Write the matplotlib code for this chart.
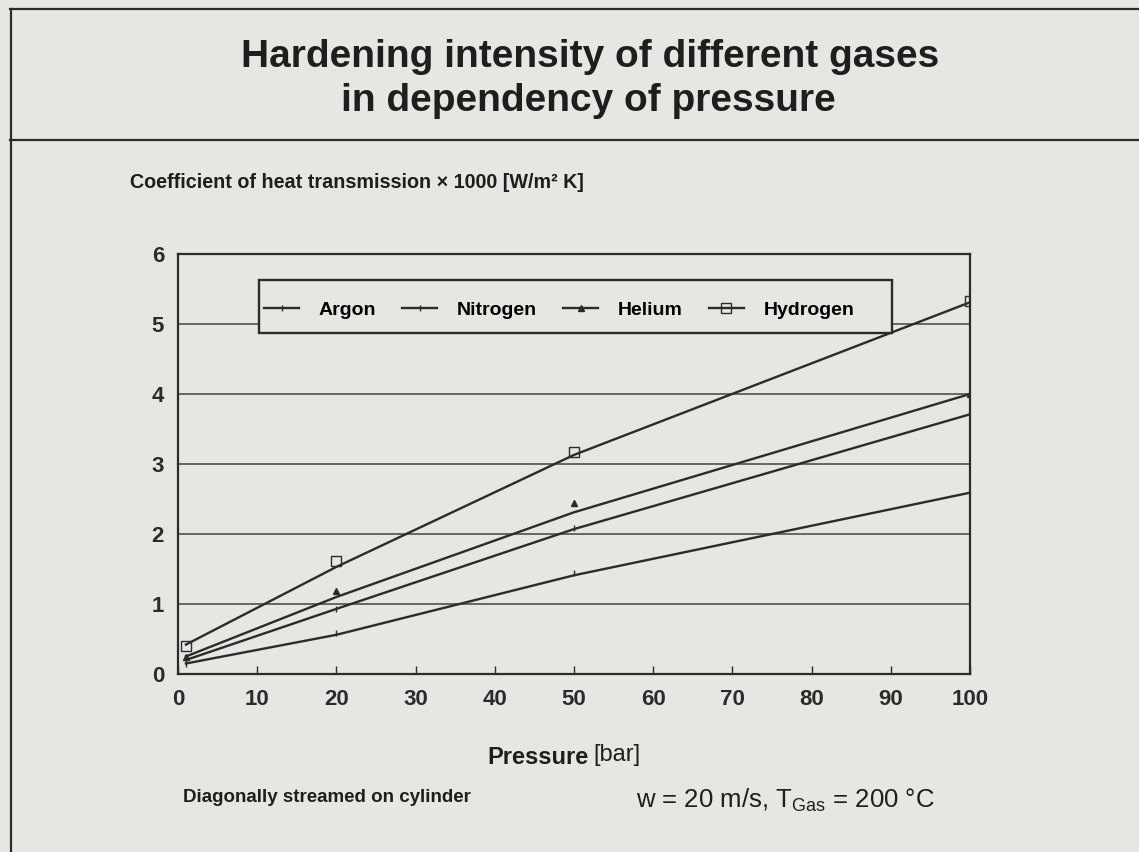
import matplotlib
matplotlib.use("Agg")
import matplotlib.pyplot as plt
from matplotlib.lines import Line2D
from matplotlib.patches import Rectangle

# values
pressure = [1, 20, 50, 100]
gases = ["Argon", "Nitrogen", "Helium", "Hydrogen"]
argon_line = [0.15, 0.56, 1.41, 2.59]
nitrogen_line = [0.20, 0.93, 2.07, 3.71]
helium_line = [0.25, 1.10, 2.31, 4.00]
hydrogen_line = [0.42, 1.53, 3.13, 5.31]
argon_pts = [0.15, 0.58, 1.44, 2.59]
nitrogen_pts = [0.20, 0.93, 2.09, 3.71]
helium_pts = [0.25, 1.18, 2.45, 4.00]
hydrogen_pts = [0.40, 1.62, 3.17, 5.33]
x_ticks = [0, 10, 20, 30, 40, 50, 60, 70, 80, 90, 100]
y_ticks = [0, 1, 2, 3, 4, 5, 6]

BG = "#e6e6e3"
INK = "#2b2b2b"
TXT = "#1e1e1e"
SANS = ["Liberation Sans", "DejaVu Sans"]

plt.rcParams["font.family"] = SANS

fig = plt.figure(figsize=(11.39, 8.52), dpi=100, facecolor=BG)

# page frame lines of the scan
fig.add_artist(Line2D([10 / 1139, 1], [1 - 9 / 852, 1 - 9 / 852], color=INK, lw=1.6))
fig.add_artist(Line2D([10 / 1139, 1], [1 - 140 / 852, 1 - 140 / 852], color=INK, lw=1.6))
fig.add_artist(Line2D([11 / 1139, 11 / 1139], [0, 1 - 9 / 852], color=INK, lw=1.6))

fig.text(590 / 1139, 1 - 57 / 852, "Hardening intensity of different gases",
         ha="center", va="center", fontsize=28, fontweight="bold", color=TXT)
fig.text(588 / 1139, 1 - 101 / 852, "in dependency of pressure",
         ha="center", va="center", fontsize=28, fontweight="bold", color=TXT)

ax = fig.add_axes([178 / 1139, 1 - 674 / 852, 792 / 1139, 420 / 852])
ax.set_facecolor(BG)

series = [
    (argon_line, argon_pts, dict(marker="|", markersize=4, mew=1.0)),
    (nitrogen_line, nitrogen_pts, dict(marker="|", markersize=4, mew=1.0)),
    (helium_line, helium_pts, dict(marker="^", markersize=5, mfc=INK)),
    (hydrogen_line, hydrogen_pts, dict(marker="s", markersize=7, mfc="none", mew=1.0)),
]
handles = []
for name, (line_vals, pts, mstyle) in zip(gases, series):
    ax.plot(pressure, line_vals, color=INK, lw=1.7, zorder=3)
    ax.plot(pressure, pts, ls="none", color=INK, zorder=4, **mstyle)
    handles.append(Line2D([], [], color=INK, lw=1.7, **mstyle))

for y in y_ticks[1:-1]:
    ax.axhline(y, color="#444444", lw=1.1, zorder=1)

ax.set_xlim(0, 100)
ax.set_ylim(0, 6)
ax.set_xticks(x_ticks)
ax.set_yticks(y_ticks)
ax.tick_params(axis="x", direction="in", length=6, width=1.0, pad=11, labelsize=16, colors=INK)
ax.tick_params(axis="y", length=0, pad=10, labelsize=16, colors=INK)
for lab in ax.get_xticklabels() + ax.get_yticklabels():
    lab.set_fontweight("bold")
for s in ax.spines.values():
    s.set_color(INK)
    s.set_linewidth(1.6)

# legend box drawn separately so it can keep the wide frame of the original
ax.add_patch(Rectangle((0.102, 0.812), 0.80, 0.126, transform=ax.transAxes,
                       facecolor=BG, edgecolor=INK, lw=1.7, zorder=5))
leg = ax.legend(handles, gases, ncol=4, loc="center left",
                bbox_to_anchor=(0.104, 0.866), frameon=False,
                handlelength=1.8, handletextpad=1.0, columnspacing=1.35,
                borderpad=0.2, borderaxespad=0,
                prop=dict(weight="bold", size=14, family=SANS))
leg.set_zorder(6)

fig.text(130 / 1139, 1 - 183 / 852,
         "Coefficient of heat transmission \u00d7 1000 [W/m\u00b2 K]",
         ha="left", va="center", fontsize=14.2, fontweight="bold", color=TXT)
fig.text(487 / 1139, 1 - 757 / 852, "Pressure", ha="left", va="center",
         fontsize=17, fontweight="bold", color=TXT)
fig.text(593 / 1139, 1 - 755 / 852, "[bar]", ha="left", va="center",
         fontsize=17, color=TXT)
fig.text(183 / 1139, 1 - 797 / 852, "Diagonally streamed on cylinder", ha="left", va="center",
         fontsize=13.5, fontweight="bold", color=TXT)
fig.text(636 / 1139, 1 - 800 / 852, "w = 20 m/s, T$_{\\mathregular{Gas}}$ = 200 \u00b0C",
         ha="left", va="center", fontsize=18.5, color=TXT)

fig.savefig("out.png", dpi=100, facecolor=BG)
